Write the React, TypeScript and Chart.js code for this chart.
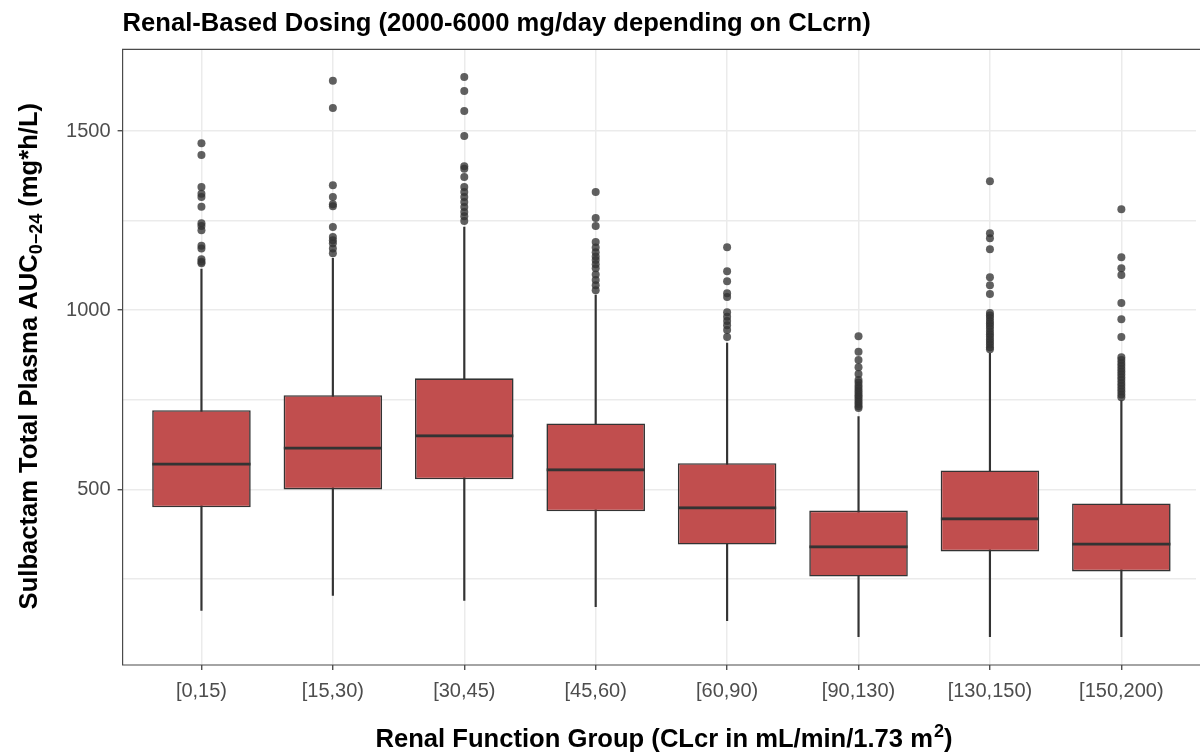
import { useEffect, useRef } from 'react';
import { Chart, registerables } from 'chart.js';

Chart.register(...registerables);

const categories = ['[0,15)', '[15,30)', '[30,45)', '[45,60)', '[60,90)', '[90,130)', '[130,150)', '[150,200)'];
const q1 = [450, 500, 528, 439, 346, 257, 327, 271];
const medians = [575, 620, 654, 559, 453, 344, 422, 352];
const q3 = [721, 763, 810, 684, 573, 441, 553, 461];
const whiskerLow = [162, 204, 190, 173, 134, 89, 89, 89];
const whiskerHigh = [1115, 1145, 1232, 1042, 908, 703, 880, 748];
const outliers0 = [1466, 1433, 1344, 1325, 1316, 1289, 1243, 1235, 1223, 1180, 1172, 1142, 1135, 1131];
const outliers1 = [1640, 1564, 1349, 1316, 1296, 1290, 1232, 1204, 1195, 1187, 1172, 1159];
const outliers2 = [1651, 1612, 1556, 1486, 1402, 1395, 1372, 1344, 1330, 1316, 1302, 1288, 1274, 1262, 1249];
const outliers3 = [1330, 1257, 1235, 1190, 1175, 1162, 1150, 1140, 1128, 1117, 1100, 1084, 1070, 1056];
const outliers4 = [1176, 1109, 1081, 1047, 1037, 994, 982, 970, 958, 945, 925];
const outliers5 = [927, 884, 861, 841, 822, 805, 798, 790, 783, 776, 770, 763, 757, 750, 744, 738, 732, 727];
const outliers6 = [1360, 1215, 1201, 1170, 1092, 1070, 1045, 992, 985, 978, 970, 963, 956, 948, 940, 933, 926, 918, 911, 904, 897, 891];
const outliers7 = [1282, 1148, 1117, 1098, 1020, 975, 925, 869, 861, 853, 845, 837, 829, 821, 813, 805, 797, 789, 781, 773, 765, 757];
const outliers = [outliers0, outliers1, outliers2, outliers3, outliers4, outliers5, outliers6, outliers7];
const yTicks = [250, 500, 750, 1000, 1250, 1500];
const yLabelTicks = [500, 1000, 1500];

const FAM = "'Liberation Sans', Arial, Helvetica, sans-serif";
const titleText = 'Renal-Based Dosing (2000-6000 mg/day depending on CLcrn)';

const annotPlugin = {
  id: 'annot',
  afterDraw(chart: any) {
    const { ctx, chartArea: a } = chart;
    ctx.save();
    // panel border
    ctx.strokeStyle = '#4a4a4a';
    ctx.lineWidth = 1.2;
    ctx.beginPath();
    ctx.moveTo(chart.width + 2, a.top);
    ctx.lineTo(a.left, a.top);
    ctx.lineTo(a.left, a.bottom);
    ctx.lineTo(chart.width + 2, a.bottom);
    ctx.stroke();

    ctx.fillStyle = '#000';
    ctx.textAlign = 'left';
    ctx.textBaseline = 'alphabetic';
    const big = `bold 25.6px ${FAM}`;
    const small = `bold 18px ${FAM}`;

    // x title
    const xs1 = 'Renal Function Group (CLcr in mL/min/1.73 m';
    const xs2 = '2';
    const xs3 = ')';
    ctx.font = big;
    const xw1 = ctx.measureText(xs1).width;
    const xw3 = ctx.measureText(xs3).width;
    ctx.font = small;
    const xw2 = ctx.measureText(xs2).width;
    const xCenter = 663.5;
    let x = xCenter - (xw1 + xw2 + xw3) / 2;
    const yBase = 747;
    ctx.font = big;
    ctx.fillText(xs1, x, yBase);
    x += xw1 + 1;
    ctx.font = small;
    ctx.fillText(xs2, x, yBase - 10);
    x += xw2;
    ctx.font = big;
    ctx.fillText(xs3, x, yBase);

    // y title
    const ys1 = 'Sulbactam Total Plasma AUC';
    const ys2 = '0\u221224';
    const ys3 = ' (mg*h/L)';
    ctx.font = big;
    const yw1 = ctx.measureText(ys1).width;
    const yw3 = ctx.measureText(ys3).width;
    ctx.font = small;
    const yw2 = ctx.measureText(ys2).width;
    const total = yw1 + yw2 + yw3;
    ctx.translate(37, (a.top + a.bottom) / 2 - 1);
    ctx.rotate(-Math.PI / 2);
    let t = -total / 2;
    ctx.font = big;
    ctx.fillText(ys1, t, 0);
    t += yw1;
    ctx.font = small;
    ctx.fillText(ys2, t, 5);
    t += yw2;
    ctx.font = big;
    ctx.fillText(ys3, t, 0);
    ctx.restore();
  },
};

export default function App() {
  const ref = useRef<HTMLCanvasElement | null>(null);

  useEffect(() => {
    if (!ref.current) return;
    const outlierPoints: { x: number; y: number }[] = [];
    outliers.forEach((arr, i) => arr.forEach((v) => outlierPoints.push({ x: i, y: v })));

    const chart = new Chart(ref.current, {
      type: 'bar',
      data: {
        datasets: [
          {
            type: 'scatter',
            data: outlierPoints,
            backgroundColor: 'rgba(51,51,51,0.78)',
            borderWidth: 0,
            pointRadius: 4,
            order: 4,
          } as any,
          {
            type: 'bar',
            data: categories.map((_, i) => ({ x: i, y: [whiskerLow[i], whiskerHigh[i]] })),
            backgroundColor: '#333333',
            borderWidth: 0,
            grouped: false,
            maxBarThickness: 1.5,
            categoryPercentage: 1,
            barPercentage: 1,
            order: 3,
          } as any,
          {
            type: 'bar',
            data: categories.map((_, i) => ({ x: i, y: [q1[i], q3[i]] })),
            backgroundColor: '#C14E4E',
            borderColor: '#333333',
            borderWidth: 1.6,
            borderSkipped: false,
            grouped: false,
            categoryPercentage: 0.75,
            barPercentage: 1,
            order: 2,
          } as any,
          {
            type: 'bar',
            data: categories.map((_, i) => ({ x: i, y: [q1[i], medians[i]] })),
            backgroundColor: 'rgba(0,0,0,0)',
            borderColor: '#333333',
            borderWidth: { top: 3, bottom: 0, left: 0, right: 0 },
            borderSkipped: false,
            grouped: false,
            categoryPercentage: 0.75,
            barPercentage: 1,
            order: 1,
          } as any,
        ],
      },
      options: {
        responsive: false,
        animation: false,
        devicePixelRatio: 1,
        layout: { padding: 0 },
        plugins: {
          legend: { display: false },
          tooltip: { enabled: false },
          title: {
            display: true,
            text: titleText,
            align: 'start',
            fullSize: false,
            color: '#000',
            font: { family: FAM, size: 25.6, weight: 'bold', lineHeight: 1.2 },
            padding: { top: 8.5, bottom: 10.1 },
          },
        },
        scales: {
          x: {
            type: 'linear',
            min: -0.6,
            max: 7.568,
            offset: false,
            afterBuildTicks: (scale: any) => {
              scale.ticks = categories.map((_, i) => ({ value: i }));
            },
            afterFit: (scale: any) => {
              scale.height = 89;
            },
            ticks: {
              autoSkip: false,
              maxRotation: 0,
              minRotation: 0,
              padding: 9,
              color: '#4D4D4D',
              font: { family: FAM, size: 20 },
              callback: (v: any) => categories[Number(v)] ?? '',
            },
            grid: {
              offset: false,
              color: '#EBEBEB',
              lineWidth: 1.5,
              tickLength: 5,
              tickColor: '#333333',
              tickWidth: 1.2,
            },
            border: { display: false },
          },
          y: {
            type: 'linear',
            min: 10,
            max: 1728,
            beginAtZero: false,
            afterBuildTicks: (scale: any) => {
              scale.ticks = yTicks.map((v) => ({ value: v }));
            },
            afterFit: (scale: any) => {
              scale.width = 122.6;
            },
            ticks: {
              padding: 7,
              color: '#4D4D4D',
              font: { family: FAM, size: 20 },
              callback: (v: any) => (yLabelTicks.includes(Number(v)) ? String(v) : ''),
            },
            grid: {
              color: '#EBEBEB',
              lineWidth: 1.5,
              tickLength: 5,
              tickWidth: 1.2,
              tickColor: (ctx: any) =>
                ctx.tick && yLabelTicks.includes(ctx.tick.value) ? '#333333' : 'rgba(0,0,0,0)',
            },
            border: { display: false },
          },
        },
      },
      plugins: [annotPlugin],
    } as any);

    return () => chart.destroy();
  }, []);

  return (
    <div style={{ position: 'absolute', left: 0, top: 0, width: 1200, height: 754, background: '#fff' }}>
      <canvas ref={ref} width={1200} height={754} style={{ display: 'block', width: 1200, height: 754 }} />
    </div>
  );
}
